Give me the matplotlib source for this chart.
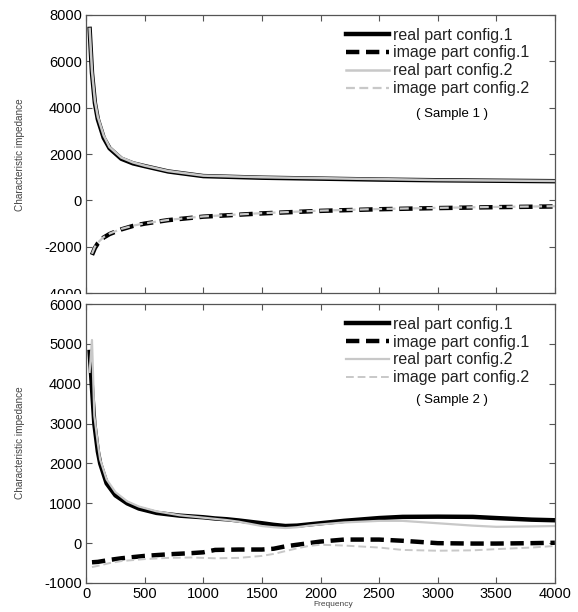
import matplotlib
matplotlib.use("Agg")
import matplotlib.pyplot as plt
from matplotlib.patches import Rectangle

plt.rcParams['font.family'] = ['Liberation Sans', 'DejaVu Sans']
plt.rcParams['axes.unicode_minus'] = False

# ---------------- data: Sample 1 ----------------
freq1 = [30, 50, 75, 100, 150, 200, 300, 400, 500, 700, 1000, 1500, 2000, 2500, 3000, 3500, 4000]
s1_real_c1 = [7400, 5500, 4200, 3500, 2700, 2250, 1800, 1600, 1480, 1250, 1050, 980, 940, 900, 870, 850, 830]
s1_real_c2 = [7400, 5600, 4300, 3600, 2800, 2300, 1850, 1640, 1500, 1270, 1070, 1000, 960, 920, 880, 860, 840]
freq1_im = [50, 75, 100, 150, 200, 300, 400, 500, 700, 1000, 1500, 2000, 2500, 3000, 3500, 4000]
s1_imag_c1 = [-2350, -2050, -1850, -1600, -1450, -1250, -1100, -1000, -850, -700, -560, -450, -380, -330, -290, -260]
s1_imag_c2 = [-2300, -2000, -1820, -1580, -1430, -1230, -1090, -990, -840, -690, -550, -440, -370, -320, -280, -250]

# ---------------- data: Sample 2 ----------------
freq2 = [30, 50, 70, 100, 120, 175, 250, 350, 450, 600, 800, 1000, 1100, 1200, 1300, 1500,
         1600, 1700, 1800, 1900, 2000, 2200, 2500, 2700, 3000, 3300, 3500, 3800, 4000]
s2_real_c1 = [4800, 3900, 3000, 2300, 2000, 1500, 1200, 1000, 870, 760, 690, 650, 620, 600, 570, 500,
              460, 430, 440, 470, 500, 560, 630, 660, 665, 660, 630, 590, 575]
s2_real_c2 = [4300, 5100, 3200, 2500, 2100, 1600, 1280, 1050, 920, 800, 700, 640, 610, 580, 540, 430,
              400, 380, 400, 440, 470, 520, 560, 560, 500, 440, 410, 420, 430]
freq2_im = [50, 100, 200, 300, 500, 700, 900, 1000, 1100, 1300, 1500, 1600, 1700, 1800, 1900,
            2000, 2200, 2500, 2700, 3000, 3300, 3500, 3800, 4000]
s2_imag_c1 = [-480, -470, -420, -380, -320, -280, -250, -230, -170, -160, -160, -140, -80, -40, 0,
              40, 90, 90, 60, 0, -10, -10, 0, 10]
s2_imag_c2 = [-600, -570, -500, -450, -400, -370, -360, -370, -380, -370, -320, -270, -200, -130, -70,
              -40, -60, -110, -170, -190, -180, -150, -110, -70]

legend_labels = ['real part config.1', 'image part config.1', 'real part config.2', 'image part config.2']
xticks = [0, 500, 1000, 1500, 2000, 2500, 3000, 3500, 4000]

fig = plt.figure(figsize=(5.78, 6.12), dpi=100)
ax1 = fig.add_axes([0.149, 0.521, 0.811, 0.4545])
ax2 = fig.add_axes([0.149, 0.0474, 0.811, 0.4556])
ax2.set_zorder(2)

GRAY = '#c8c8c8'

def style(ax):
    for s in ax.spines.values():
        s.set_color('#555555')
        s.set_linewidth(0.9)
    ax.tick_params(direction='in', length=4, width=0.8, color='#555555',
                   top=True, right=True, labelsize=10.5, pad=3)
    ax.set_xlim(0, 4000)
    ax.set_xticks(xticks)

# top panel
ax1.plot(freq1, s1_real_c1, color='black', lw=3.2, label=legend_labels[0])
ax1.plot(freq1_im, s1_imag_c1, color='black', lw=3.2, ls=(0, (3, 1.5)), label=legend_labels[1])
ax1.plot(freq1, s1_real_c2, color=GRAY, lw=1.8, label=legend_labels[2])
ax1.plot(freq1_im, s1_imag_c2, color=GRAY, lw=1.6, ls=(0, (4, 2)), label=legend_labels[3])
style(ax1)
ax1.set_ylim(-4000, 8000)
ax1.set_yticks([-4000, -2000, 0, 2000, 4000, 6000, 8000])
ax1.tick_params(labelbottom=False)

# bottom panel
ax2.plot(freq2, s2_real_c1, color='black', lw=3.2, label=legend_labels[0])
ax2.plot(freq2_im, s2_imag_c1, color='black', lw=3.2, ls=(0, (3, 1.5)), label=legend_labels[1])
ax2.plot(freq2, s2_real_c2, color=GRAY, lw=1.6, label=legend_labels[2])
ax2.plot(freq2_im, s2_imag_c2, color=GRAY, lw=1.4, ls=(0, (4, 2)), label=legend_labels[3])
style(ax2)
ax2.set_ylim(-1000, 6000)
ax2.set_yticks([-1000, 0, 1000, 2000, 3000, 4000, 5000, 6000])

for ax in (ax1, ax2):
    leg = ax.legend(loc='upper left', bbox_to_anchor=(0.53, 0.995), frameon=False,
                    fontsize=11.5, handlelength=2.7, handletextpad=0.25, labelspacing=0.18,
                    borderpad=0.2)
    for t in leg.get_texts():
        t.set_color('#222222')

ax1.text(0.78, 0.645, '( Sample 1 )', transform=ax1.transAxes, ha='center', va='center', fontsize=9.5)
ax2.text(0.78, 0.657, '( Sample 2 )', transform=ax2.transAxes, ha='center', va='center', fontsize=9.5)

# partly hide the lowest top-panel tick label, as in the reference
fig.patches.append(Rectangle((0, 1 - 303 / 612), 84 / 578, 9.5 / 612, transform=fig.transFigure,
                             facecolor='white', edgecolor='none', zorder=1))

fig.text(0.035, 1 - 155 / 612, 'Characteristic impedance', rotation=90, ha='center', va='center',
         fontsize=7.2, color='#444444')
fig.text(0.035, 1 - 443 / 612, 'Characteristic impedance', rotation=90, ha='center', va='center',
         fontsize=7.2, color='#444444')
fig.text(333 / 578, 1 - 605 / 612, 'Frequency', ha='center', va='center', fontsize=6, color='#444444')

fig.savefig('out.png', dpi=100)
